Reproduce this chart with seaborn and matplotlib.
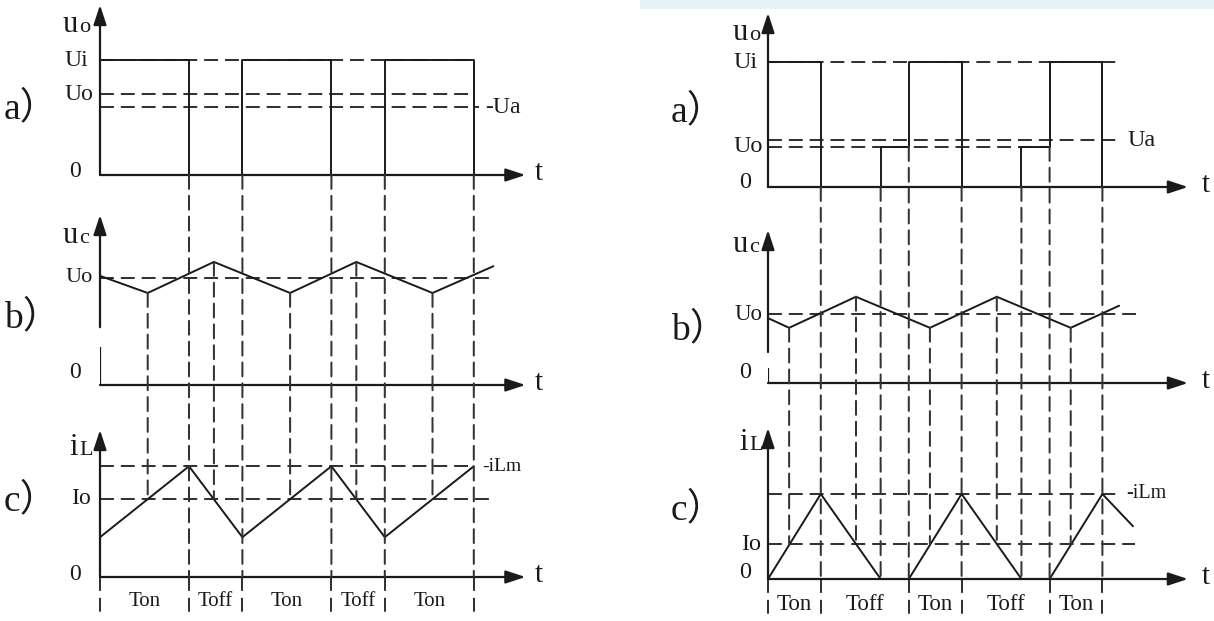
import matplotlib
matplotlib.use("Agg")
import matplotlib.pyplot as plt
import seaborn as sns
from matplotlib.patches import ConnectionPatch, Rectangle

# %% data ------------------------------------------------------------------
# left panel: continuous inductor current, right panel: discontinuous
# a) output of the switch uo   (Ui = 1)
left_uo_t = [0, 5, 8, 13, 16, 21]
left_uo_v = [1, 0, 1, 0, 1, 0]
left_Ui, left_Uo, left_Ua = 1.0, 0.70, 0.59
# b) capacitor voltage uc     (Uo = 1)
left_uc_t = [0, 2.68, 6.4, 10.68, 14.4, 18.68, 22.1]
left_uc_v = [1.02, 0.86, 1.15, 0.86, 1.15, 0.86, 1.11]
left_Uo_b = 1.0
# c) inductor current iL      (Io = 1)
left_iL_t = [0, 5, 8, 13, 16, 21]
left_iL_v = [0.51, 1.42, 0.51, 1.42, 0.51, 1.42]
left_Io, left_iLm = 1.0, 1.42
left_bounds = [0, 5, 8, 13, 16, 21]
left_phase = ['Ton', 'Toff', 'Ton', 'Toff', 'Ton']

right_uo_t = [0, 3, 6.4, 8, 11, 14.4, 16, 19]
right_uo_v = [1, 0, 0.32, 1, 0, 0.32, 1, 0]
right_Ui, right_Uo, right_Ua = 1.0, 0.32, 0.376
right_uc_t = [0, 1.2, 5.0, 9.2, 13.0, 17.2, 19.95]
right_uc_v = [0.94, 0.80, 1.25, 0.80, 1.25, 0.80, 1.12]
right_Uo_b = 1.0
right_iL_t = [0, 3, 6.4, 8, 11, 14.4, 16, 19, 20.74]
right_iL_v = [0, 1, 0, 0, 1, 0, 0, 1, 0.62]
right_Io, right_iLm = 0.41, 1.0
right_bounds = [0, 3, 8, 11, 16, 19]
right_phase = ['Ton', 'Toff', 'Ton', 'Toff', 'Ton']

row_tags = ['a）', 'b）', 'c）']

#%% style
sns.set_theme(style="white")
plt.rcParams['font.family'] = ['Liberation Serif', 'Noto Sans CJK SC', 'DejaVu Sans']
plt.rcParams['lines.scale_dashes'] = False
ink = '#1a1a1a'
dash_c = '#333333'
dash = (0, (10, 5))
lw_ax, lw_w, lw_d = 1.6, 1.4, 1.45

W, H = 1214, 621
fig = plt.figure(figsize=(W/100, H/100), dpi=100)
fig.patch.set_facecolor('white')
fig.add_artist(Rectangle((640/W, 1-9/H), 574/W, 9/H, transform=fig.transFigure,
                         color='#e4f2f8', lw=0))

# pixel layout of both panels
lay = {
    'left': dict(x0=100, k=17.8, y0=[175, 385, 577], scale=[115, 107, 78], top=[5, 215, 430],
                 t_end=23.9, bottom=615, tag_x=4, tag_base=[118, 327, 510], tag_size=27,
                 gap_b=(0.355, 0.54), ends=dict(Ui=21.0, Uo=21.0, Ua=21.3, Uob=22.1, iLm=21.0, Io=22.1),
                 ua_txt='-Ua', ua_dx=6, ilm_dx=8, name_dx=-22, name_dy=[-27, -28, -25],
                 tick_dx=-9, zero_dx=-19, zero_dy=[3, 12, 2], ph_dy=-25, ph_size=15,
                 t_dx=9, lab_size=17),
    'right': dict(x0=768, k=17.6, y0=[187, 383, 579], scale=[125, 69, 85], top=[13, 230, 428],
                  t_end=23.86, bottom=620, tag_x=671, tag_base=[121, 339, 519], tag_size=27,
                  gap_b=(0.217, 0.449), ends=dict(Ui=19.9, Uo=16.0, Ua=19.9, Uob=20.9, iLm=19.85, Io=20.85),
                  ua_txt='Ua', ua_dx=9, ilm_dx=9, name_dx=-20, name_dy=[-27, -22, -22],
                  tick_dx=-7, zero_dx=-17, zero_dy=[4, 11, 6], ph_dy=-26, ph_size=16.5,
                  t_dx=14, lab_size=17.5),
}


def row_axes(p, i):
    y0, top = p['y0'][i], p['top'][i]
    ax = fig.add_axes([p['x0']/W, 1 - y0/H, p['t_end']*p['k']/W, (y0 - top)/H])
    ax.set_xlim(0, p['t_end'])
    ax.set_ylim(0, (y0 - top)/p['scale'][i])
    ax.set_axis_off()
    return ax


def arrow(ax, a, b):
    ax.annotate('', xy=b, xytext=a, annotation_clip=False,
                arrowprops=dict(arrowstyle='-|>,head_length=0.85,head_width=0.28', mutation_scale=14,
                                lw=lw_ax, color=ink, shrinkA=0, shrinkB=0))


def note(ax, xy, s, dx, dy, size, ha='right', va='center'):
    ax.annotate(s, xy=xy, xytext=(dx, dy), textcoords='offset pixels', ha=ha, va=va,
                fontsize=size, color=ink, annotation_clip=False)


def hdash(ax, v, t1):
    ax.plot([0, t1], [v, v], color=dash_c, lw=lw_d, ls=dash, clip_on=False)


def vdash(ax, t, v0, v1):
    ax.plot([t, t], [v0, v1], color=dash_c, lw=lw_d, ls=dash, clip_on=False)


def vguide(axA, ta, va, axB, vb):
    con = ConnectionPatch(xyA=(ta, va), coordsA='data', axesA=axA, xyB=(ta, vb), coordsB='data',
                          axesB=axB, color=dash_c, lw=lw_d, ls=dash, annotation_clip=False)
    con.set_clip_on(False)
    fig.add_artist(con)


def panel(p, uo_t, uo_v, Ui, Uo, Ua, uc_t, uc_v, Uo_b, iL_t, iL_v, Io, iLm, bounds, phase):
    ax_a, ax_b, ax_c = [row_axes(p, i) for i in range(3)]
    e = p['ends']
    bottom_c = -(p['bottom'] - p['y0'][2])/p['scale'][2]

    # axes with arrows
    for ax in (ax_a, ax_b, ax_c):
        arrow(ax, (0, 0), (p['t_end'], 0))
        note(ax, (p['t_end'], 0), 't', p['t_dx'], 2, 21, ha='left')
    arrow(ax_a, (0, 0), (0, ax_a.get_ylim()[1]))
    arrow(ax_c, (0, 0), (0, ax_c.get_ylim()[1]))
    ax_b.plot([0, 0], [0, p['gap_b'][0]], color=ink, lw=lw_ax, solid_capstyle='butt')
    arrow(ax_b, (0, p['gap_b'][1]), (0, ax_b.get_ylim()[1]))

    # axis names
    for i, (ax, big, small) in enumerate([(ax_a, 'u', 'o'), (ax_b, 'u', 'c'), (ax_c, 'i', 'L')]):
        ytop = ax.get_ylim()[1]
        note(ax, (0, ytop), big, p['name_dx'], p['name_dy'][i], 22, ha='right', va='baseline')
        note(ax, (0, ytop), small, p['name_dx'] + 1, p['name_dy'][i], 16, ha='left', va='baseline')

    # a) switch voltage
    for v, t1 in [(Ui, e['Ui']), (Uo, e['Uo']), (Ua, e['Ua'])]:
        hdash(ax_a, v, t1)
    sns.lineplot(x=uo_t, y=uo_v, ax=ax_a, estimator=None, sort=False, drawstyle='steps-post',
                 color=ink, lw=lw_w)
    note(ax_a, (0, Ui), 'Ui', p['tick_dx'] - 3, 0, p['lab_size'])
    note(ax_a, (0, Uo), 'Uo', p['tick_dx'] + 2, 0, p['lab_size'])
    note(ax_a, (e['Ua'], Ua), p['ua_txt'], p['ua_dx'], 0, p['lab_size'], ha='left')
    note(ax_a, (0, 0), '0', p['zero_dx'], p['zero_dy'][0], p['lab_size'])

    # b) capacitor voltage
    hdash(ax_b, Uo_b, e['Uob'])
    sns.lineplot(x=uc_t, y=uc_v, ax=ax_b, estimator=None, sort=False, color=ink, lw=lw_w)
    note(ax_b, (0, Uo_b), 'Uo', p['tick_dx'] + 2, 0, p['lab_size'] - 1)
    note(ax_b, (0, 0), '0', p['zero_dx'], p['zero_dy'][1], p['lab_size'])

    # c) inductor current
    hdash(ax_c, iLm, e['iLm'])
    hdash(ax_c, Io, e['Io'])
    sns.lineplot(x=iL_t, y=iL_v, ax=ax_c, estimator=None, sort=False, color=ink, lw=lw_w)
    note(ax_c, (0, Io), 'Io', p['tick_dx'], 0, p['lab_size'])
    note(ax_c, (e['iLm'], iLm), '-iLm', p['ilm_dx'], 0, p['lab_size'] - 3, ha='left')
    note(ax_c, (0, 0), '0', p['zero_dx'], p['zero_dy'][2], p['lab_size'])

    # vertical guides at switching instants
    for j, t in enumerate(uo_t[1:], start=1):
        start = min(uo_v[j - 1], uo_v[j])
        vguide(ax_a, t, start, ax_c, 0)
        if t in bounds:
            vdash(ax_c, t, 0, bottom_c)
    vdash(ax_c, 0, 0, bottom_c)
    # guides at ripple extrema (iL crossing Io)
    for t, v in zip(uc_t[1:-1], uc_v[1:-1]):
        vguide(ax_b, t, v, ax_c, Io)

    # Ton / Toff
    for a, b, s in zip(bounds[:-1], bounds[1:], phase):
        note(ax_c, ((a + b)/2, 0), s, 0, p['ph_dy'], p['ph_size'], ha='center')

    for i, tag in enumerate(row_tags):
        fig.text(p['tag_x']/W, 1 - p['tag_base'][i]/H, tag, ha='left', va='baseline',
                 fontsize=p['tag_size'], color=ink)


panel(lay['left'], left_uo_t, left_uo_v, left_Ui, left_Uo, left_Ua, left_uc_t, left_uc_v, left_Uo_b,
      left_iL_t, left_iL_v, left_Io, left_iLm, left_bounds, left_phase)
panel(lay['right'], right_uo_t, right_uo_v, right_Ui, right_Uo, right_Ua, right_uc_t, right_uc_v,
      right_Uo_b, right_iL_t, right_iL_v, right_Io, right_iLm, right_bounds, right_phase)

fig.savefig('out.png', dpi=100)
